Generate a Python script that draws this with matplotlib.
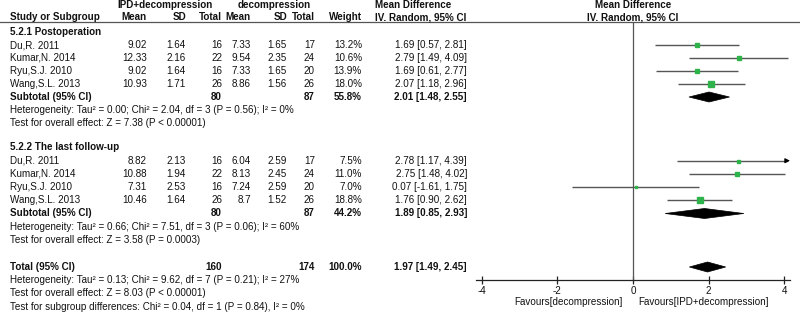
import matplotlib
matplotlib.use("Agg")
import matplotlib.pyplot as plt
from matplotlib.patches import Polygon

plt.rcParams['font.family'] = ['Liberation Sans', 'DejaVu Sans']

# ---------------- data ----------------
studies = ["Du,R. 2011", "Kumar,N. 2014", "Ryu,S.J. 2010", "Wang,S.L. 2013"]

g1_name = "5.2.1 Postoperation"
g1_exp_mean = [9.02, 12.33, 9.02, 10.93]
g1_exp_sd = [1.64, 2.16, 1.64, 1.71]
g1_exp_n = [16, 22, 16, 26]
g1_ctl_mean = [7.33, 9.54, 7.33, 8.86]
g1_ctl_sd = [1.65, 2.35, 1.65, 1.56]
g1_ctl_n = [17, 24, 20, 26]
g1_weight = [13.2, 10.6, 13.9, 18.0]
g1_md = [1.69, 2.79, 1.69, 2.07]
g1_lo = [0.57, 1.49, 0.61, 1.18]
g1_hi = [2.81, 4.09, 2.77, 2.96]
g1_sub = dict(n_exp=80, n_ctl=87, weight=55.8, md=2.01, lo=1.48, hi=2.55)
g1_het = "Heterogeneity: Tau\u00b2 = 0.00; Chi\u00b2 = 2.04, df = 3 (P = 0.56); I\u00b2 = 0%"
g1_test = "Test for overall effect: Z = 7.38 (P < 0.00001)"

g2_name = "5.2.2 The last follow-up"
g2_exp_mean = [8.82, 10.88, 7.31, 10.46]
g2_exp_sd = [2.13, 1.94, 2.53, 1.64]
g2_exp_n = [16, 22, 16, 26]
g2_ctl_mean = [6.04, 8.13, 7.24, 8.7]
g2_ctl_sd = [2.59, 2.45, 2.59, 1.52]
g2_ctl_n = [17, 24, 20, 26]
g2_weight = [7.5, 11.0, 7.0, 18.8]
g2_md = [2.78, 2.75, 0.07, 1.76]
g2_lo = [1.17, 1.48, -1.61, 0.90]
g2_hi = [4.39, 4.02, 1.75, 2.62]
g2_sub = dict(n_exp=80, n_ctl=87, weight=44.2, md=1.89, lo=0.85, hi=2.93)
g2_het = "Heterogeneity: Tau\u00b2 = 0.66; Chi\u00b2 = 7.51, df = 3 (P = 0.06); I\u00b2 = 60%"
g2_test = "Test for overall effect: Z = 3.58 (P = 0.0003)"

total = dict(n_exp=160, n_ctl=174, weight=100.0, md=1.97, lo=1.49, hi=2.45)
tot_het = "Heterogeneity: Tau\u00b2 = 0.13; Chi\u00b2 = 9.62, df = 7 (P = 0.21); I\u00b2 = 27%"
tot_test = "Test for overall effect: Z = 8.03 (P < 0.00001)"
tot_sub = "Test for subgroup differences: Chi\u00b2 = 0.04, df = 1 (P = 0.84), I\u00b2 = 0%"

x_ticks = [-4, -2, 0, 2, 4]
fav_left = "Favours[decompression]"
fav_right = "Favours[IPD+decompression]"

# ---------------- layout (pixels) ----------------
W, H = 800, 314
FS = 7.1
TXT = '#111111'
LINE = '#555555'
GREEN = '#2db34a'

col_study = 10
col_em, col_esd, col_en = 147, 186, 222
col_cm, col_csd, col_cn = 251, 287, 315
col_w = 362
col_ci = 467
col_hdr_md = 375

fig = plt.figure(figsize=(W / 100, H / 100), dpi=100)
ax0 = fig.add_axes([0, 0, 1, 1])
ax0.set_xlim(0, W)
ax0.set_ylim(H, 0)
ax0.axis('off')

axis_y = 280
xl = (-4.15, 4.15)
px_left, px_right = 476, 790
ax = fig.add_axes([px_left / W, (H - axis_y) / H, (px_right - px_left) / W, axis_y / H])
ax.set_xlim(*xl)
ax.set_ylim(axis_y, 0)
for s in ['top', 'right', 'left']:
    ax.spines[s].set_visible(False)
ax.spines['bottom'].set_color('#222222')
ax.spines['bottom'].set_linewidth(0.9)
ax.set_yticks([])
ax.set_xticks(x_ticks)
ax.set_xticklabels([str(t) for t in x_ticks], fontsize=FS, color=TXT)
ax.tick_params(axis='x', direction='inout', length=6, width=0.9, color='#222222', pad=1)
ax.patch.set_alpha(0)


def t(x, y, s, ha='left', bold=False):
    ax0.text(x, y, s, ha=ha, va='center', fontsize=FS, color=TXT,
             fontweight='bold' if bold else 'normal')


# headers
hdr1, hdr2 = 5, 17.5
t((118 + 213) / 2, hdr1, "IPD+decompression", ha='center', bold=True)
t((236 + 312) / 2, hdr1, "decompression", ha='center', bold=True)
t(col_hdr_md, hdr1, "Mean Difference", bold=True)
t(633, hdr1, "Mean Difference", ha='center', bold=True)
t(col_study, hdr2, "Study or Subgroup", bold=True)
t(col_em, hdr2, "Mean", ha='right', bold=True)
t(col_esd, hdr2, "SD", ha='right', bold=True)
t(col_en, hdr2, "Total", ha='right', bold=True)
t(col_cm, hdr2, "Mean", ha='right', bold=True)
t(col_csd, hdr2, "SD", ha='right', bold=True)
t(col_cn, hdr2, "Total", ha='right', bold=True)
t(col_w, hdr2, "Weight", ha='right', bold=True)
t(col_hdr_md, hdr2, "IV. Random, 95% CI", bold=True)
t(633, hdr2, "IV. Random, 95% CI", ha='center', bold=True)
line_y = 22
ax0.plot([0, W], [line_y, line_y], color=LINE, lw=0.9)

ax.vlines(0, line_y, axis_y, color=LINE, lw=0.9)


def diamond(y, d, h=5):
    poly = Polygon([(d['lo'], y), (d['md'], y - h), (d['hi'], y), (d['md'], y + h)],
                   closed=True, facecolor='black', edgecolor='black', lw=0.5)
    ax.add_patch(poly)


def num(v):
    s = f"{v:.2f}"
    return f"{v}" if len(f"{v}") < len(s) else s


def group(y0, name, em, esd, en, cm, csd, cn, w, md, lo, hi, sub, het, test, step=13.2):
    t(col_study, y0, name, bold=True)
    for i in range(len(studies)):
        y = y0 + step * (i + 1)
        t(col_study, y, studies[i])
        t(col_em, y, num(em[i]), ha='right')
        t(col_esd, y, num(esd[i]), ha='right')
        t(col_en, y, f"{en[i]}", ha='right')
        t(col_cm, y, num(cm[i]), ha='right')
        t(col_csd, y, num(csd[i]), ha='right')
        t(col_cn, y, f"{cn[i]}", ha='right')
        t(col_w, y, f"{w[i]:.1f}%", ha='right')
        t(col_ci, y, f"{md[i]:.2f} [{lo[i]:.2f}, {hi[i]:.2f}]", ha='right')
        # forest marks
        if hi[i] > xl[1]:
            ax.plot([lo[i], xl[1] - 0.08], [y, y], color=LINE, lw=1.0, solid_capstyle='butt')
            ax.annotate('', xy=(xl[1], y), xytext=(xl[1] - 0.1, y),
                        arrowprops=dict(arrowstyle='-|>', color='black', lw=0.8,
                                        mutation_scale=7, shrinkA=0, shrinkB=0))
        else:
            ax.plot([lo[i], hi[i]], [y, y], color=LINE, lw=1.0, solid_capstyle='butt')
        side = (1.5 + 0.2 * w[i]) * 0.72
        ax.plot([md[i]], [y], marker='s', ms=side, color=GREEN, mec=GREEN, lw=0)
    y = y0 + step * (len(studies) + 1)
    t(col_study, y, "Subtotal (95% CI)", bold=True)
    t(col_en, y, f"{sub['n_exp']}", ha='right', bold=True)
    t(col_cn, y, f"{sub['n_ctl']}", ha='right', bold=True)
    t(col_w, y, f"{sub['weight']:.1f}%", ha='right', bold=True)
    t(col_ci, y, f"{sub['md']:.2f} [{sub['lo']:.2f}, {sub['hi']:.2f}]", ha='right', bold=True)
    diamond(y, sub)
    t(col_study, y + step, het)
    t(col_study, y + 2 * step, test)


group(32, g1_name, g1_exp_mean, g1_exp_sd, g1_exp_n, g1_ctl_mean, g1_ctl_sd, g1_ctl_n,
      g1_weight, g1_md, g1_lo, g1_hi, g1_sub, g1_het, g1_test, step=13.0)
group(147.5, g2_name, g2_exp_mean, g2_exp_sd, g2_exp_n, g2_ctl_mean, g2_ctl_sd, g2_ctl_n,
      g2_weight, g2_md, g2_lo, g2_hi, g2_sub, g2_het, g2_test)

yt = 267
t(col_study, yt, "Total (95% CI)", bold=True)
t(col_en, yt, f"{total['n_exp']}", ha='right', bold=True)
t(col_cn, yt, f"{total['n_ctl']}", ha='right', bold=True)
t(col_w, yt, f"{total['weight']:.1f}%", ha='right', bold=True)
t(col_ci, yt, f"{total['md']:.2f} [{total['lo']:.2f}, {total['hi']:.2f}]", ha='right', bold=True)
diamond(yt, total)
t(col_study, yt + 13.2, tot_het)
t(col_study, yt + 26.4, tot_test)
t(col_study, yt + 39.6, tot_sub)

t(623, 302, fav_left, ha='right')
t(638, 302, fav_right, ha='left')

fig.savefig("out.png", dpi=100)
